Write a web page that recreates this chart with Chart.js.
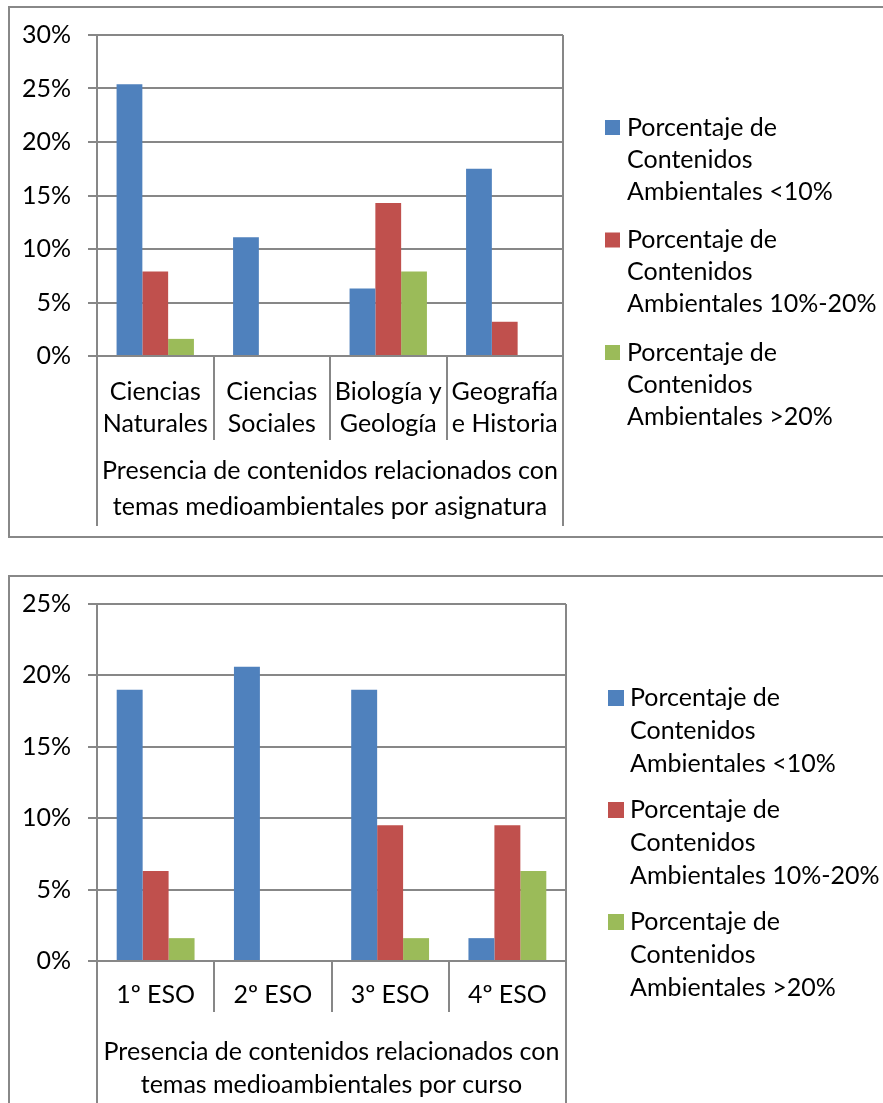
<!DOCTYPE html>
<html>
<head>
<meta charset="utf-8">
<script src="https://cdn.jsdelivr.net/npm/chart.js@4/dist/chart.umd.min.js"></script>
<style>
  html, body { margin: 0; padding: 0; background: #fff; width: 883px; height: 1103px; overflow: hidden; }
  .box { position: absolute; border: 2px solid #888; box-sizing: border-box; }
  canvas { position: absolute; left: 0; }
</style>
</head>
<body>
<div class="box" style="left:8px; top:6px; width:900px; height:532px;"></div>
<div class="box" style="left:8px; top:575px; width:900px; height:560px;"></div>
<canvas id="c1" width="883" height="545" style="top:0px;"></canvas>
<canvas id="c2" width="883" height="543" style="top:560px;"></canvas>
<script>
// ---- data ----
const asignaturas = [["Ciencias", "Naturales"], ["Ciencias", "Sociales"], ["Biología y", "Geología"], ["Geografía", "e Historia"]];
const cursos = ["1º ESO", "2º ESO", "3º ESO", "4º ESO"];
const serieLabels = [
  ["Porcentaje de", "Contenidos", "Ambientales <10%"],
  ["Porcentaje de", "Contenidos", "Ambientales 10%-20%"],
  ["Porcentaje de", "Contenidos", "Ambientales >20%"]
];
const asigMenos10 = [25.4, 11.1, 6.3, 17.5];
const asig10a20   = [7.9, 0, 14.3, 3.2];
const asigMas20   = [1.6, 0, 7.9, 0];
const cursoMenos10 = [19.0, 20.6, 19.0, 1.6];
const curso10a20   = [6.3, 0, 9.5, 9.5];
const cursoMas20   = [1.6, 0, 1.6, 6.3];
const yMax1 = 30, yMax2 = 25, yStep = 5;
const titulo1 = ["Presencia de contenidos relacionados con", "temas medioambientales por asignatura"];
const titulo2 = ["Presencia de contenidos relacionados con", "temas medioambientales por curso"];
const colores = ["#4F81BD", "#C0504D", "#9BBB59"];

// ---- helpers ----
const FONT = "Lato";
const FS = 25;
const GRID = "#878787";

const framePlugin = {
  id: 'frame',
  afterDraw(chart, args, opts) {
    const ctx = chart.ctx;
    const x = chart.scales.x;
    const ca = chart.chartArea;
    const n = chart.data.labels.length;
    const half = (x.getPixelForValue(1) - x.getPixelForValue(0)) / 2;
    ctx.save();
    ctx.strokeStyle = GRID;
    ctx.lineWidth = 2;
    ctx.beginPath();
    ctx.moveTo(ca.left, ca.top); ctx.lineTo(ca.left, opts.outerBottom);
    const right = x.getPixelForValue(n - 1) + half;
    ctx.moveTo(right, ca.top); ctx.lineTo(right, opts.outerBottom);
    for (let i = 0; i < n - 1; i++) {
      const bx = Math.round(x.getPixelForValue(i) + half);
      ctx.moveTo(bx, ca.bottom); ctx.lineTo(bx, opts.dividerBottom);
    }
    ctx.stroke();
    ctx.restore();
  }
};

const legendPlugin = {
  id: 'sideLegend',
  afterDraw(chart, args, opts) {
    const ctx = chart.ctx;
    ctx.save();
    ctx.font = opts.fontSize + "px " + FONT;
    ctx.textBaseline = "middle";
    ctx.textAlign = "left";
    chart.data.datasets.forEach((ds, i) => {
      const cy = opts.y0 + i * opts.itemH;
      ctx.fillStyle = ds.backgroundColor;
      ctx.fillRect(opts.boxX, cy - opts.box / 2, opts.box, opts.box);
      ctx.fillStyle = "#000";
      ds.legendLines.forEach((t, j) => ctx.fillText(t, opts.textX, cy + j * opts.lineH));
    });
    ctx.restore();
  }
};

function makeChart(id, labels, series, yMax, titulo, lay) {
  return new Chart(document.getElementById(id), {
    type: 'bar',
    data: {
      labels: labels,
      datasets: series.map((d, i) => ({
        label: serieLabels[i].join(" "),
        legendLines: serieLabels[i],
        data: d,
        backgroundColor: colores[i],
        borderWidth: 0,
        categoryPercentage: 0.664,
        barPercentage: 1.0
      }))
    },
    options: {
      responsive: false,
      animation: false,
      devicePixelRatio: 1,
      layout: { padding: { left: 0, top: lay.top, right: lay.right, bottom: 0 } },
      plugins: {
        legend: { display: false },
        tooltip: { enabled: false },
        frame: { dividerBottom: lay.dividerBottom, outerBottom: lay.outerBottom },
        sideLegend: lay.legend
      },
      scales: {
        x: {
          grid: { display: false, drawTicks: false },
          border: { display: false },
          ticks: { color: "#000", font: { family: FONT, size: FS, lineHeight: 32 / FS }, padding: lay.tickPad, maxRotation: 0, autoSkip: false },
          title: { display: true, text: titulo, color: "#000", font: { family: FONT, size: FS, lineHeight: lay.titleLH / FS }, padding: { top: 0, bottom: lay.titlePad } },
          afterFit: s => { s.height = lay.xHeight; }
        },
        y: {
          min: 0, max: yMax,
          ticks: { stepSize: yStep, color: "#000", font: { family: FONT, size: FS }, padding: 17, callback: v => v + "%" },
          grid: { color: GRID, lineWidth: 2, tickLength: 9, drawTicks: true },
          border: { display: true, color: GRID, width: 2 },
          afterFit: s => { s.width = 97; }
        }
      }
    },
    plugins: [framePlugin, legendPlugin]
  });
}

makeChart('c1', asignaturas, [asigMenos10, asig10a20, asigMas20], yMax1, titulo1, {
  top: 35, right: 883 - 563, xHeight: 545 - 356, tickPad: 20, titlePad: 20, titleLH: 36,
  dividerBottom: 440, outerBottom: 526,
  legend: { boxX: 605, box: 15, textX: 627, y0: 127.5, lineH: 32, itemH: 112.5, fontSize: FS }
});
makeChart('c2', cursos, [cursoMenos10, curso10a20, cursoMas20], yMax2, titulo2, {
  top: 44, right: 883 - 566, xHeight: 543 - 401, tickPad: 18, titlePad: 2, titleLH: 33,
  dividerBottom: 452, outerBottom: 543,
  legend: { boxX: 608, box: 16, textX: 630, y0: 138, lineH: 33, itemH: 112, fontSize: FS }
});
</script>
</body>
</html>
